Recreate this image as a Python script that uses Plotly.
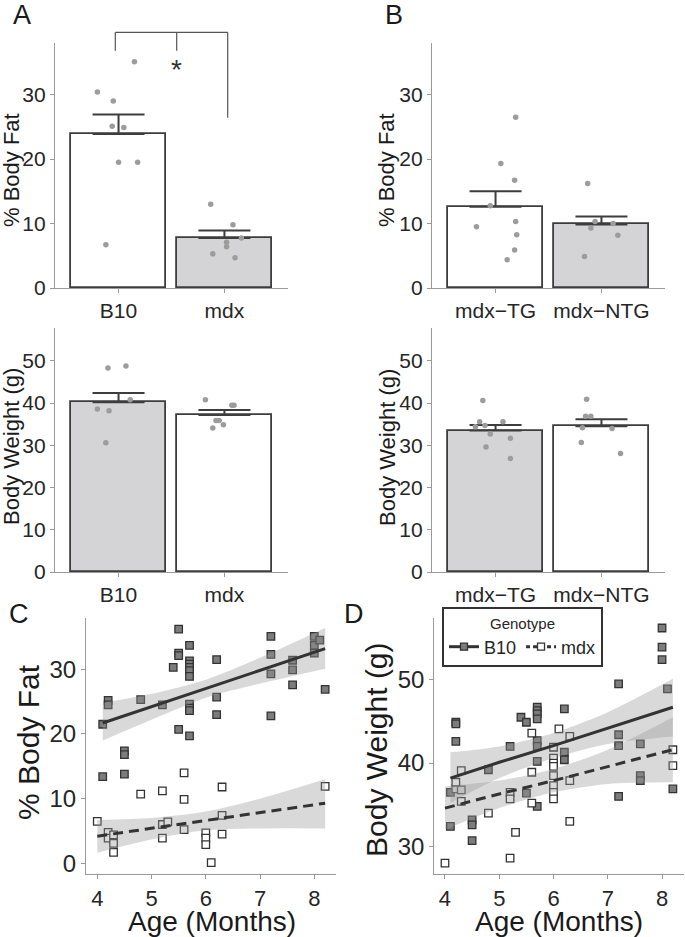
import plotly.graph_objects as go
import numpy as np

# ---------------- DATA ----------------
# Panel A (bar + jittered points)
a_groups = ["B10", "mdx"]
a_fat_mean = [23.9, 7.75]
a_fat_se = [3.0, 1.15]
a_fat_b10 = [35.1, 30.4, 29.0, 25.1, 24.9, 19.5, 19.5, 6.7]
a_fat_b10_jit = [0.15, -0.2, -0.05, -0.06, 0.05, 0.0, 0.18, -0.12]
a_fat_mdx = [13.0, 9.8, 7.1, 6.4, 7.75, 5.3, 4.7]
a_fat_mdx_jit = [-0.13, 0.08, 0.02, 0.02, 0.16, -0.11, 0.1]

a_wt_mean = [40.2, 37.2]
a_wt_se = [2.2, 1.2]
a_wt_b10 = [48.8, 48.3, 40.8, 38.6, 38.2, 30.6]
a_wt_b10_jit = [0.07, -0.1, 0.11, -0.2, -0.09, -0.12]
a_wt_mdx = [40.8, 39.5, 39.5, 35.9, 35.9, 34.9, 34.1]
a_wt_mdx_jit = [-0.18, 0.07, 0.09, -0.08, -0.05, -0.01, -0.11]

# Panel B
b_groups = ["mdx\u2212TG", "mdx\u2212NTG"]
b_fat_mean = [12.6, 9.85]
b_fat_se = [2.4, 1.25]
b_fat_tg = [26.5, 19.3, 16.7, 12.75, 9.5, 10.3, 8.25, 5.9, 4.4]
b_fat_tg_jit = [0.19, 0.05, 0.18, -0.05, -0.18, 0.19, 0.2, 0.18, 0.11]
b_fat_ntg = [16.2, 10.3, 9.3, 10.0, 8.2, 4.9]
b_fat_ntg_jit = [-0.13, -0.06, -0.1, 0.11, 0.155, -0.16]

b_wt_mean = [33.5, 34.5]
b_wt_se = [1.3, 1.7]
b_wt_tg = [40.6, 35.6, 35.6, 34.4, 34.7, 32.7, 31.7, 29.6, 26.9]
b_wt_tg_jit = [-0.12, -0.15, 0.07, -0.19, -0.1, -0.05, 0.14, -0.09, 0.14]
b_wt_ntg = [40.9, 36.9, 36.9, 34.2, 34.0, 30.7, 28.1]
b_wt_ntg_jit = [-0.14, -0.15, -0.1, -0.18, 0.1, -0.19, 0.18]

# Panel C (age vs % body fat)
c_b10_age = [5.5, 5.5, 5.5, 5.7, 5.4, 5.7, 5.7, 5.7, 5.7, 5.7, 5.7, 5.7, 5.7, 5.5, 5.7,
             4.2, 4.2, 4.1, 4.1, 4.8, 5.2, 4.5, 4.5, 4.5, 6.2, 6.2, 6.2, 7.2, 7.2, 7.2, 7.2,
             7.6, 7.6, 7.6, 8.0, 8.0, 8.0, 8.1, 8.2]
c_b10_fat = [36.2, 32.5, 32.1, 33.7, 30.3, 31.3, 30.8, 30.3, 29.8, 28.9, 24.6, 24.0, 23.6, 20.7, 19.7,
             25.2, 24.5, 21.5, 13.4, 25.3, 24.5, 17.4, 16.8, 13.8, 31.5, 25.7, 23.0, 35.1, 32.3, 29.3, 22.8,
             31.4, 29.9, 27.6, 35.1, 33.7, 32.5, 34.5, 26.9]
c_mdx_age = [4.0, 4.2, 4.2, 4.3, 4.3, 4.3, 4.8, 5.2, 5.2, 5.3, 5.2, 5.6, 5.6, 5.6, 6.0, 6.0, 6.0,
             6.1, 6.3, 6.3, 6.3, 8.2]
c_mdx_fat = [6.5, 4.8, 3.9, 4.4, 3.1, 1.7, 10.7, 11.2, 6.0, 6.4, 3.9, 14.0, 9.9, 5.2, 4.7, 3.9, 2.9,
             0.1, 11.8, 7.4, 4.5, 11.9]
# fitted lines and confidence bands
c_b10_grid = [4.1, 5.0, 6.0, 7.0, 8.2]
c_b10_fit = [21.7, 24.2, 27.0, 29.8, 33.2]
c_b10_hi = [24.8, 26.2, 28.4, 31.8, 36.4]
c_b10_lo = [19.0, 22.2, 25.6, 27.8, 30.1]
c_mdx_grid = [4.0, 5.0, 6.0, 7.0, 8.2]
c_mdx_fit = [4.2, 5.4, 6.6, 7.85, 9.3]
c_mdx_hi = [6.7, 7.0, 8.0, 10.0, 13.0]
c_mdx_lo = [1.65, 3.7, 5.1, 5.4, 5.4]

# Panel D (age vs body weight)
d_b10_age = [8.0, 8.0, 8.0, 8.1, 8.2, 7.2, 7.2, 7.2, 7.2, 7.6, 7.6, 7.6, 6.2, 6.2, 6.2,
             5.7, 5.7, 5.7, 5.7, 5.7, 5.7, 5.7, 5.7, 5.4, 5.5, 5.5, 5.2, 4.2, 4.2, 4.2,
             4.1, 4.1, 4.5, 4.5, 4.5, 4.8]
d_b10_wt = [56.2, 53.9, 52.4, 48.9, 36.9, 49.5, 43.4, 42.1, 36.0, 42.3, 38.5, 37.9, 46.5, 41.3, 40.4,
            46.7, 46.3, 45.9, 45.3, 42.7, 42.0, 40.2, 34.8, 45.5, 44.9, 36.4, 42.0, 44.9, 44.7, 42.6,
            36.5, 32.4, 33.2, 32.6, 30.7, 39.2]
d_mdx_age = [4.0, 4.2, 4.2, 4.3, 4.3, 4.3, 4.8, 5.2, 5.2, 5.2, 5.3, 5.6, 5.6, 5.6, 6.1,
             6.0, 6.0, 6.0, 6.0, 6.0, 6.0, 6.0, 6.0, 6.3, 6.3, 6.3, 8.2, 8.2]
d_mdx_wt = [28.0, 36.9, 37.7, 39.1, 36.8, 35.4, 34.0, 36.5, 35.7, 28.6, 31.7, 43.6, 38.9, 35.2, 44.1,
            41.9, 40.6, 40.0, 39.6, 38.5, 37.3, 36.5, 35.7, 43.2, 37.9, 33.0, 41.6, 39.7]
d_b10_grid = [4.1, 5.0, 6.0, 7.0, 8.2]
d_b10_fit = [38.2, 40.1, 42.1, 44.2, 46.7]
d_b10_hi = [41.3, 42.0, 43.6, 46.1, 50.1]
d_b10_lo = [35.2, 38.2, 40.6, 42.3, 43.2]
d_mdx_grid = [4.0, 5.0, 6.0, 7.0, 8.2]
d_mdx_fit = [34.6, 36.3, 37.9, 39.6, 41.6]
d_mdx_hi = [37.2, 37.9, 39.3, 41.6, 45.5]
d_mdx_lo = [32.0, 34.6, 36.5, 37.5, 37.7]

# ---------------- STYLE ----------------
W, H = 685, 937
FONT = "Liberation Sans, Arial, Helvetica, sans-serif"
GREY_BAR = "#d4d4d6"
EDGE = "#3d3d3d"
AXC = "#9a9a9a"
TXT = "#262626"


def PX(p):
    return p / W


def PY(p):
    return 1 - p / H


fig = go.Figure()


def bar_panel(ax, means, ses, colors, pts0, jit0, pts1, jit1):
    xa, ya = "x" + ax, "y" + ax
    fig.add_trace(go.Bar(
        x=[0, 1], y=means, width=0.9, xaxis=xa, yaxis=ya, showlegend=False,
        marker=dict(color=colors, line=dict(color=EDGE, width=1.8)),
        error_y=dict(type="data", array=ses, arrayminus=[0, 0], symmetric=False,
                     color=EDGE, thickness=2, width=26),
    ))
    for center, pts, jit in ((0, pts0, jit0), (1, pts1, jit1)):
        fig.add_trace(go.Scatter(
            x=[center + j for j in jit], y=pts, mode="markers", xaxis=xa, yaxis=ya,
            showlegend=False, marker=dict(color="#9c9c9c", size=5.5, line=dict(width=0)),
        ))


bar_panel("", a_fat_mean, a_fat_se, ["white", GREY_BAR], a_fat_b10, a_fat_b10_jit, a_fat_mdx, a_fat_mdx_jit)
bar_panel("2", b_fat_mean, b_fat_se, ["white", GREY_BAR], b_fat_tg, b_fat_tg_jit, b_fat_ntg, b_fat_ntg_jit)
bar_panel("3", a_wt_mean, a_wt_se, [GREY_BAR, "white"], a_wt_b10, a_wt_b10_jit, a_wt_mdx, a_wt_mdx_jit)
bar_panel("4", b_wt_mean, b_wt_se, [GREY_BAR, "white"], b_wt_tg, b_wt_tg_jit, b_wt_ntg, b_wt_ntg_jit)

BAND = "rgba(150,150,150,0.36)"


def scatter_panel(ax, b_age, b_val, m_age, m_val, bg, bfit, bhi, blo, mg, mfit, mhi, mlo):
    xa, ya = "x" + ax, "y" + ax
    fig.add_trace(go.Scatter(x=b_age, y=b_val, mode="markers", xaxis=xa, yaxis=ya, showlegend=False,
                             marker=dict(symbol="square", size=7.5, color="#7c7c7c",
                                         line=dict(color="#333333", width=1.3))))
    fig.add_trace(go.Scatter(x=m_age, y=m_val, mode="markers", xaxis=xa, yaxis=ya, showlegend=False,
                             marker=dict(symbol="square", size=7.5, color="white",
                                         line=dict(color="#333333", width=1.3))))
    for g, hi, lo in ((bg, bhi, blo), (mg, mhi, mlo)):
        fig.add_trace(go.Scatter(x=g, y=lo, mode="lines", xaxis=xa, yaxis=ya, showlegend=False,
                                 line=dict(width=0, shape="spline", smoothing=0.8), hoverinfo="skip"))
        fig.add_trace(go.Scatter(x=g, y=hi, mode="lines", xaxis=xa, yaxis=ya, showlegend=False,
                                 fill="tonexty", fillcolor=BAND,
                                 line=dict(width=0, shape="spline", smoothing=0.8), hoverinfo="skip"))
    fig.add_trace(go.Scatter(x=bg, y=bfit, mode="lines", xaxis=xa, yaxis=ya, showlegend=False,
                             line=dict(color="#333333", width=3)))
    fig.add_trace(go.Scatter(x=mg, y=mfit, mode="lines", xaxis=xa, yaxis=ya, showlegend=False,
                             line=dict(color="#333333", width=3, dash="10px,6px")))


scatter_panel("5", c_b10_age, c_b10_fat, c_mdx_age, c_mdx_fat,
              c_b10_grid, c_b10_fit, c_b10_hi, c_b10_lo, c_mdx_grid, c_mdx_fit, c_mdx_hi, c_mdx_lo)
scatter_panel("6", d_b10_age, d_b10_wt, d_mdx_age, d_mdx_wt,
              d_b10_grid, d_b10_fit, d_b10_hi, d_b10_lo, d_mdx_grid, d_mdx_fit, d_mdx_hi, d_mdx_lo)

# legend entries
fig.add_trace(go.Scatter(x=[None], y=[None], mode="lines+markers", name="B10", xaxis="x6", yaxis="y6",
                         line=dict(color="#333333", width=3),
                         marker=dict(symbol="square", size=7, color="#7c7c7c",
                                     line=dict(color="#333333", width=1.3))))
fig.add_trace(go.Scatter(x=[None], y=[None], mode="lines+markers", name="mdx", xaxis="x6", yaxis="y6",
                         line=dict(color="#333333", width=3, dash="4px,3px"),
                         marker=dict(symbol="square", size=7, color="white",
                                     line=dict(color="#333333", width=1.3))))

common = dict(showline=True, linecolor=AXC, linewidth=1.2, ticks="outside", ticklen=4,
              tickcolor=AXC, tickwidth=1.2, showgrid=False, zeroline=False, fixedrange=True,
              automargin=False)

lay = {}
# bar panels
rows = [(43, 288), (328, 572)]
cols = [(55, 288), (432, 665)]
ranges = [[0, 38], [0, 57.8]]
tickvals_y = [[0, 10, 20, 30], [0, 10, 20, 30, 40, 50]]
idx = 1
for r, (ytop, ybot) in enumerate(rows):
    for c, (xl, xr) in enumerate(cols):
        sfx = "" if idx == 1 else str(idx)
        lay["xaxis" + sfx] = dict(common, domain=[PX(xl), PX(xr)], anchor="y" + sfx,
                                  range=[-0.6, 1.6], tickvals=[0, 1],
                                  ticktext=a_groups if c == 0 else b_groups,
                                  tickfont=dict(family=FONT, size=21, color=TXT))
        lay["yaxis" + sfx] = dict(common, domain=[PY(ybot), PY(ytop)], anchor="x" + sfx,
                                  range=ranges[r], tickvals=tickvals_y[r],
                                  tickfont=dict(family=FONT, size=21, color=TXT))
        idx += 1

# scatter panels
lay["xaxis5"] = dict(common, domain=[PX(86), PX(336)], anchor="y5", range=[3.792, 8.40],
                     tickvals=[4, 5, 6, 7, 8], tickfont=dict(family=FONT, size=22, color=TXT))
lay["yaxis5"] = dict(common, domain=[PY(874), PY(618)], anchor="x5", range=[-1.65, 37.93],
                     tickvals=[0, 10, 20, 30], tickfont=dict(family=FONT, size=24, color=TXT))
lay["xaxis6"] = dict(common, domain=[PX(434.3), PX(684)], anchor="y6", range=[3.803, 8.405],
                     tickvals=[4, 5, 6, 7, 8], tickfont=dict(family=FONT, size=22, color=TXT))
lay["yaxis6"] = dict(common, domain=[PY(874), PY(618)], anchor="x6", range=[26.7, 57.4],
                     tickvals=[30, 40, 50], tickfont=dict(family=FONT, size=24, color=TXT))

fig.update_layout(**lay)

ann = []


def text(x, y, s, size, angle=0, color="#1a1a1a"):
    ann.append(dict(x=PX(x), y=PY(y), xref="paper", yref="paper", text=s, showarrow=False,
                    textangle=angle, xanchor="center", yanchor="middle", borderpad=0,
                    font=dict(family=FONT, size=size, color=color)))


# panel letters
text(22, 15, "A", 27)
text(394, 15, "B", 27)
text(19, 614, "C", 27)
text(354, 614, "D", 27)
# axis titles
text(12, 170, "% Body Fat", 22, -90)
text(387, 170, "% Body Fat", 22, -90)
text(11, 447, "Body Weight (g)", 22, -90)
text(387, 447, "Body Weight (g)", 22, -90)
text(28, 742, "% Body Fat", 30, -90)
text(376, 750, "Body Weight (g)", 30, -90)
text(212, 921, "Age (Months)", 28)
text(559, 921, "Age (Months)", 28)
# significance star
text(176.5, 69, "*", 28, 0, "#333333")

shapes = []
BR = "#555555"
for (x0, y0, x1, y1) in [(115.3, 32.3, 227.7, 32.3), (115.3, 32.3, 115.3, 50.7),
                         (227.7, 32.3, 227.7, 117.7), (176.7, 32.3, 176.7, 50.7)]:
    shapes.append(dict(type="line", xref="paper", yref="paper", x0=PX(x0), y0=PY(y0),
                       x1=PX(x1), y1=PY(y1), line=dict(color=BR, width=1.2)))

fig.update_layout(
    width=W, height=H, margin=dict(l=0, r=0, t=0, b=0),
    paper_bgcolor="white", plot_bgcolor="white",
    annotations=ann, shapes=shapes, bargap=0,
    showlegend=True,
    legend=dict(x=PX(442), y=PY(607), xanchor="left", yanchor="top", orientation="h",
                traceorder="normal",
                bordercolor="#333333", borderwidth=2, bgcolor="white",
                font=dict(family=FONT, size=18, color=TXT),
                title=dict(text="Genotype", side="top center", font=dict(family=FONT, size=15, color=TXT)),
                itemwidth=30, tracegroupgap=0),
)

fig.write_html("out.html", config={"displayModeBar": False},
               post_script="document.body.style.margin='0px';document.body.style.overflow='hidden';")
